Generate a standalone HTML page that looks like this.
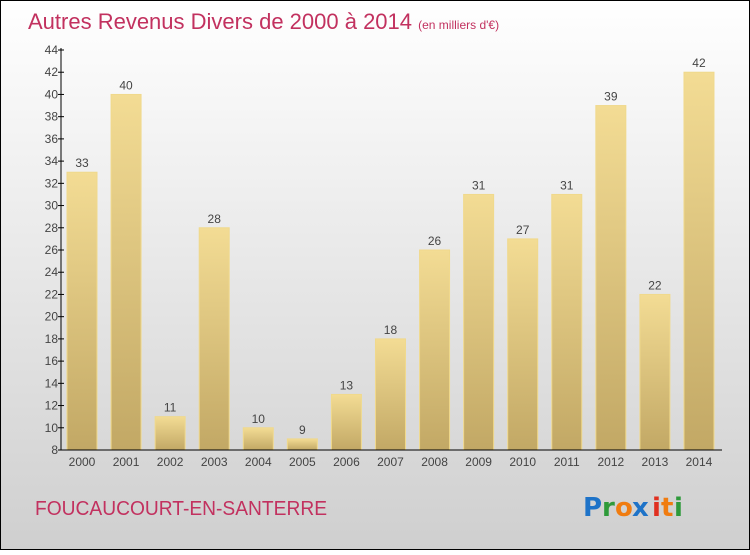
<!DOCTYPE html>
<html><head><meta charset="utf-8"><style>
html,body{margin:0;padding:0;}
body{width:750px;height:550px;overflow:hidden;font-family:"Liberation Sans",sans-serif;}
</style></head><body>
<svg width="750" height="550" xmlns="http://www.w3.org/2000/svg">
<defs>
<linearGradient id="bg" x1="0" y1="0" x2="0" y2="1"><stop offset="0" stop-color="#ffffff"/><stop offset="1" stop-color="#cfcfcf"/></linearGradient>
<linearGradient id="bar" x1="0" y1="0" x2="0" y2="1"><stop offset="0" stop-color="#f3dc94"/><stop offset="1" stop-color="#c2a865"/></linearGradient>
</defs>
<rect x="0.5" y="0.5" width="749" height="549" fill="url(#bg)" stroke="#000"/>
<text x="28" y="29" font-size="22" fill="#c2315f">Autres Revenus Divers de 2000 à 2014 <tspan font-size="12">(en milliers d'€)</tspan></text>
<g id="bars"></g>
<g id="axes"></g>
<text x="35" y="515" font-size="20" fill="#c2315f" textLength="292" lengthAdjust="spacingAndGlyphs">FOUCAUCOURT-EN-SANTERRE</text>
<g font-size="26" font-family="'DejaVu Sans',sans-serif" font-weight="bold">
<text x="583" y="516" fill="#1e73c8">P</text><text x="602" y="516" fill="#2e9a3a">r</text><text x="615" y="516" fill="#f07c10">o</text><text x="632" y="516" fill="#1e73c8">x</text><text x="652" y="516" fill="#e03020">i</text><text x="661" y="516" fill="#f07c10">t</text><text x="674" y="516" fill="#2e9a3a">i</text>
</g>
</svg>
<script>
const categories=["2000","2001","2002","2003","2004","2005","2006","2007","2008","2009","2010","2011","2012","2013","2014"];
const values=[33,40,11,28,10,9,13,18,26,31,27,31,39,22,42];
const yTicks=[8,10,12,14,16,18,20,22,24,26,28,30,32,34,36,38,40,42,44];
const NS="http://www.w3.org/2000/svg";
const y=v=>450-(v-8)*400/36;
const x=i=>82+i*44.07;
function mk(t,a,p){const e=document.createElementNS(NS,t);for(const k in a)e.setAttribute(k,a[k]);p.appendChild(e);return e;}
const bars=document.getElementById('bars'),axes=document.getElementById('axes');
values.forEach((v,i)=>{
 const r=mk('rect',{x:x(i)-15,y:y(v),width:30,height:450-y(v),fill:'url(#bar)',stroke:'#f0d98c','stroke-width':1},bars);
 
 
 const t=mk('text',{x:x(i),y:y(v)-5,'text-anchor':'middle','font-size':12,fill:'#444'},bars);
 t.textContent=v;
 
 
 const c=mk('text',{x:x(i),y:466,'text-anchor':'middle','font-size':12,fill:'#444'},axes);
 c.textContent=categories[i];
 
 
});
const ya=mk('line',{x1:61,y1:48,x2:61,y2:450,stroke:'#000'},axes);


const xa=mk('line',{x1:61,y1:450,x2:722,y2:450,stroke:'#000'},axes);


yTicks.forEach(v=>{
 mk('line',{x1:58,y1:y(v),x2:64,y2:y(v),stroke:'#000'},axes);
 const t=mk('text',{x:58,y:y(v)+4,'text-anchor':'end','font-size':12,fill:'#444'},axes);
 t.textContent=v;
 
 
});
</script>
</body></html>
